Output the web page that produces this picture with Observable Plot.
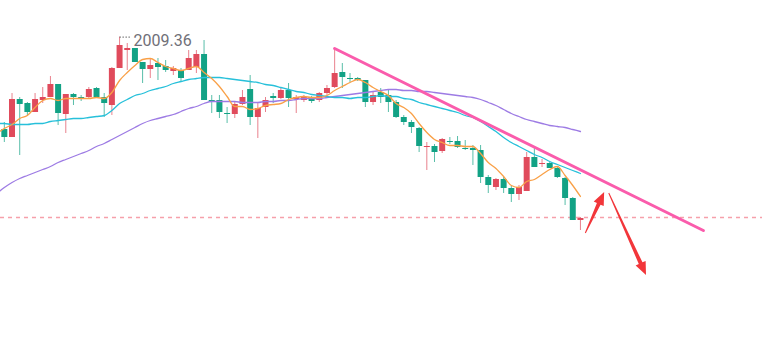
<!DOCTYPE html>
<html>
<head>
<meta charset="utf-8">
<script src="https://cdn.jsdelivr.net/npm/d3@7"></script>
<script src="https://cdn.jsdelivr.net/npm/@observablehq/plot@0.6"></script>
<style>
  html, body { margin: 0; padding: 0; background: #ffffff; }
  #chart { width: 762px; height: 351px; overflow: hidden; }
</style>
</head>
<body>
<div id="chart"></div>
<script>
// Candles (index 0 = leftmost visible candle)
const opens = [
  1917,1909,1947,1943,1934,1946,1949,1962,1932,1952,
  1949,1949,1958,1949,1941,1978,1996,1998,1984,1977,
  1983,1980,1975,1976,1976,1979,1992,1946,1946,1933,
  1932,1942,1957,1929,1939,1950,1948,1956,1947,1946,
  1949,1946,1953,1959,1974,1968,1968,1966,1944,1954,
  1951,1944,1929,1924,1918,1899,1900,1895,1905,1905,
  1898,1898,1896,1869,1859,1867,1858,1852,1855,1889,
  1882,1883,1878,1868,1848,1826
];
const closes = [
  1909,1947,1942,1934,1947,1949,1962,1933,1952,1949,
  1947,1957,1949,1943,1978,2001,1998,1984,1977,1981,
  1979,1976,1978,1968,1988,1992,1946,1944,1934,1932,
  1942,1949,1929,1938,1946,1948,1956,1948,1949,1949,
  1945,1953,1958,1973,1969,1967,1966,1944,1951,1949,
  1944,1929,1924,1919,1900,1900,1894,1907,1904,1899,
  1897,1896,1869,1861,1867,1858,1852,1859,1889,1879,
  1883,1878,1869,1848,1826,1828
];
const highs = [
  1924,1953,1949,1944,1953,1959,1970,1962,1952,1953,
  1951,1959,1959,1953,1979,2009.36,2003,1998,1984,1988,
  1988,1986,1980,1978,1996,1996,2006,1951,1951,1939,
  1945,1956,1971,1943,1949,1953,1959,1963,1951,1951,
  1950,1954,1961,1998,1983,1973,1969,1966,1954,1958,
  1956,1946,1931,1926,1919,1904,1902,1908,1909,1910,
  1906,1901,1901,1871,1868,1869,1860,1861,1894,1898,
  1887,1884,1879,1869,1849,1829
];
const lows = [
  1904,1909,1891,1930,1934,1943,1949,1921,1913,1941,
  1945,1948,1949,1929,1931,1978,1976,1984,1963,1968,
  1966,1974,1971,1964,1976,1973,1946,1933,1928,1923,
  1928,1941,1921,1908,1934,1943,1947,1939,1933,1944,
  1943,1944,1951,1958,1958,1964,1965,1939,1941,1943,
  1934,1928,1921,1913,1894,1876,1884,1893,1902,1898,
  1896,1881,1863,1853,1856,1853,1844,1846,1855,1879,
  1879,1878,1868,1841,1826,1816
];

// Moving averages; first value belongs to the (clipped) candle just left of the view
const ma5 = [
  1913,
  1918,1922,1928,1931,1939,1946,1948,1946,1948,1948,
  1948,1948,1949,1948,1954,1966,1974,1981,1987,1988,
  1984,1980,1978,1976,1978,1980,1974,1968,1960,1950,
  1940,1940,1937,1938,1941,1942,1943,1947,1949,1950,
  1949,1949,1951,1956,1960,1964,1967,1964,1959,1955,
  1951,1943,1939,1933,1923,1914,1907,1904,1901,1901,
  1900,1900,1893,1884,1878,1870,1861,1859,1865,1867,
  1872,1877,1880,1871,1861,1850
];
const ma10 = [
  1923,
  1923,1922,1922,1922,1923,1923,1925,1926,1927,1928,
  1928,1929,1930,1931,1936,1943,1947,1951,1953,1956,
  1958,1960,1963,1965,1967,1968,1969,1969,1969,1968,
  1967,1966,1965,1964,1962,1961,1959,1957,1955,1954,
  1952,1951,1950,1949,1949,1948,1949,1949,1950,1951,
  1950,1950,1948,1947,1944,1942,1940,1938,1936,1934,
  1931,1929,1925,1920,1915,1909,1904,1900,1896,1892,
  1889,1885,1882,1879,1876,1873
];
const ma20 = [
  1853,
  1859,1864,1868,1871,1874,1877,1880,1884,1887,1890,
  1893,1896,1900,1903,1907,1911,1915,1919,1923,1926,
  1928,1930,1932,1935,1938,1940,1943,1945,1945,1945,
  1945,1944,1944,1944,1945,1945,1946,1946,1947,1948,
  1948,1948,1949,1950,1951,1952,1953,1954,1955,1956,
  1957,1957,1956,1956,1955,1955,1954,1953,1952,1951,
  1950,1949,1947,1944,1941,1937,1933,1930,1927,1925,
  1923,1921,1920,1919,1917,1915
];

// Annotations
const highLabel = [{i: 15, p: 2009.36, text: "2009.36"}];
const lastPrice = [1829];
const trendLine = [{i: 43, p: 1998}, {i: 91, p: 1816}];
const arrows = [
  {x1: 75.7, y1: 1813, x2: 78.15, y2: 1854},
  {x1: 78.75, y1: 1853, x2: 83.6, y2: 1771}
];

const RED = "#e04b5c", GREEN = "#12a285";
const candles = opens.map((o, i) => ({i, open: o, close: closes[i], high: highs[i], low: lows[i]}));
const candleColor = d => d.close >= d.open ? RED : GREEN;
const maSeries = arr => arr.map((v, k) => ({i: k - 1, v}));

function arrowMark(index, scales) {
  const ns = "http://www.w3.org/2000/svg";
  const g = document.createElementNS(ns, "g");
  for (const a of arrows) {
    const x1 = scales.x(a.x1), y1 = scales.y(a.y1), x2 = scales.x(a.x2), y2 = scales.y(a.y2);
    const dx = x2 - x1, dy = y2 - y1, L = Math.hypot(dx, dy);
    const ux = dx / L, uy = dy / L, nx = -uy, ny = ux;
    const h = 13, hw = 5.5, sw = 2, tw = 0.5;
    const bx = x2 - ux * h, by = y2 - uy * h;
    const pts = [
      [x1 + nx * tw, y1 + ny * tw],
      [bx + nx * sw, by + ny * sw],
      [bx + nx * hw, by + ny * hw],
      [x2, y2],
      [bx - nx * hw, by - ny * hw],
      [bx - nx * sw, by - ny * sw],
      [x1 - nx * tw, y1 - ny * tw]
    ];
    const path = document.createElementNS(ns, "path");
    path.setAttribute("d", "M" + pts.map(p => p[0].toFixed(2) + "," + p[1].toFixed(2)).join("L") + "Z");
    path.setAttribute("fill", "#f2363a");
    g.appendChild(path);
  }
  return g;
}

const chart = Plot.plot({
  width: 762,
  height: 351,
  margin: 0,
  style: {background: "#ffffff", fontFamily: "Roboto, 'Noto Sans', sans-serif"},
  x: {type: "linear", domain: [-0.5, 98.7], axis: null},
  y: {type: "linear", domain: [1695, 2046], axis: null},
  marks: [
    Plot.ruleY(lastPrice, {y: d => d, stroke: "#f06072", strokeOpacity: 0.6, strokeWidth: 1.3, strokeDasharray: "4,4"}),
    Plot.ruleX(candles, {x: "i", y1: "low", y2: "high", stroke: candleColor, strokeWidth: 1, strokeOpacity: 0.7}),
    Plot.ruleX(candles, {x: "i", y1: "open", y2: "close", stroke: candleColor, strokeWidth: 6}),
    Plot.line(maSeries(ma20), {x: "i", y: "v", stroke: "#9d7be4", strokeWidth: 1.3, curve: "monotone-x", clip: true}),
    Plot.line(maSeries(ma10), {x: "i", y: "v", stroke: "#27c0da", strokeWidth: 1.3, curve: "monotone-x", clip: true}),
    Plot.line(maSeries(ma5), {x: "i", y: "v", stroke: "#f9a047", strokeWidth: 1.3, curve: "monotone-x", clip: true}),
    Plot.line(trendLine, {x: "i", y: "p", stroke: "#fa5cac", strokeWidth: 3}),
    arrowMark,
    Plot.link(highLabel, {x1: "i", y1: "p", x2: d => d.i + 1.45, y2: "p", stroke: "#666666", strokeWidth: 1.2, strokeDasharray: "1.2,1.8"}),
    Plot.text(highLabel, {x: "i", y: "p", text: "text", dx: 14, dy: 4, textAnchor: "start", fontSize: 16, fill: "#707078"})
  ]
});
document.getElementById("chart").appendChild(chart);
</script>
</body>
</html>
